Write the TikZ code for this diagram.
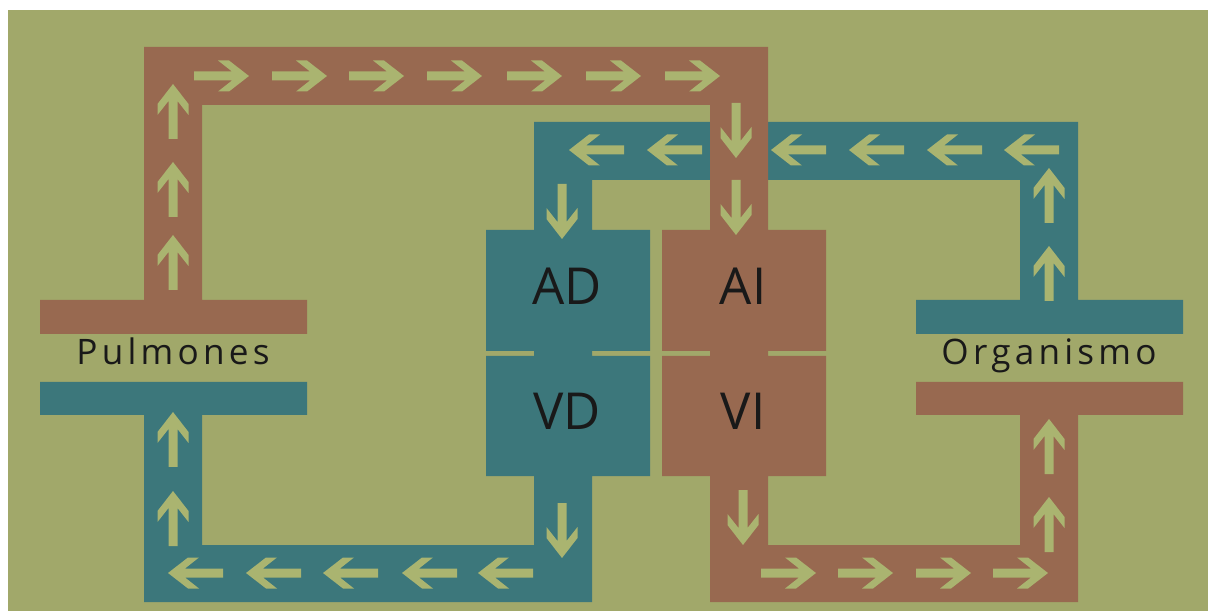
\documentclass[tikz,border=0pt]{standalone}
\usepackage{fontspec}
\setmainfont{Open Sans}

\definecolor{fondo}{RGB}{161,168,106}
\definecolor{arteria}{RGB}{152,105,80}
\definecolor{vena}{RGB}{60,119,123}
\definecolor{flechacol}{RGB}{170,180,112}

\tikzset{
  flecha/.pic={
    \fill[flechacol] (0,-4.5) -- (38,-4.5) -- (24,-15.5) -- (35,-15.5) -- (55,0)
      -- (35,15.5) -- (24,15.5) -- (38,4.5) -- (0,4.5) -- cycle;
  },
  organo/.style={font=\fontsize{20}{24}\selectfont\addfontfeatures{LetterSpace=12},
    text=black!90, anchor=base, inner sep=0pt},
  camara/.style={font=\fontsize{29}{34}\selectfont, text=black!90,
    anchor=base, inner sep=0pt}
}

\begin{document}
\begin{tikzpicture}[x=0.02cm, y=-0.02cm]
  \useasboundingbox (0,0) rectangle (1208,611);
  \fill[fondo] (8,10) rectangle (1208,611);

  % circuito venoso
  \fill[vena] (40,382) rectangle (307,415)
    (144,415) rectangle (202,602)
    (144,545) rectangle (592,602)
    (534,122) rectangle (592,602)
    (534,122) rectangle (1078,180)
    (1020,122) rectangle (1078,300)
    (916,300) rectangle (1183,334)
    (486,230) rectangle (650,351)
    (486,356) rectangle (650,476);

  % circuito arterial
  \fill[arteria] (40,300) rectangle (307,334)
    (144,47) rectangle (202,300)
    (144,47) rectangle (768,105)
    (710,47) rectangle (768,602)
    (710,545) rectangle (1078,602)
    (1020,382) rectangle (1078,602)
    (916,382) rectangle (1183,415)
    (662,230) rectangle (826,351)
    (662,356) rectangle (826,476);

  % flechas
  \foreach \x in {194,272,349,427,507,586,665} \pic at (\x,76) {flecha};
  \foreach \x in {761,838,916,993} \pic at (\x,573) {flecha};
  \foreach \x in {624,702,826,904,982,1059} \pic[rotate=180] at (\x,150) {flecha};
  \foreach \x in {223,301,378,457,533} \pic[rotate=180] at (\x,573) {flecha};
  \foreach \y in {139,217,290,467,546} \pic[rotate=90] at (173,\y) {flecha};
  \foreach \y in {223,301,474,552} \pic[rotate=90] at (1049,\y) {flecha};
  \foreach \y in {103,180} \pic[rotate=-90] at (736,\y) {flecha};
  \foreach \y in {184,503} \pic[rotate=-90] at (562,\y) {flecha};
  \pic[rotate=-90] at (743,490) {flecha};

  % textos
  \node[organo] (pulm) at (173,365) {Pulmones};
  \node[organo] (orga) at (1049,365) {Organismo};
  \node[camara] (ad) at (567,305) {AD};
  \node[camara] (ai) at (743,305) {AI};
  \node[camara] (vd) at (567,430) {VD};
  \node[camara] (vi) at (743,430) {VI};
\end{tikzpicture}
\end{document}
